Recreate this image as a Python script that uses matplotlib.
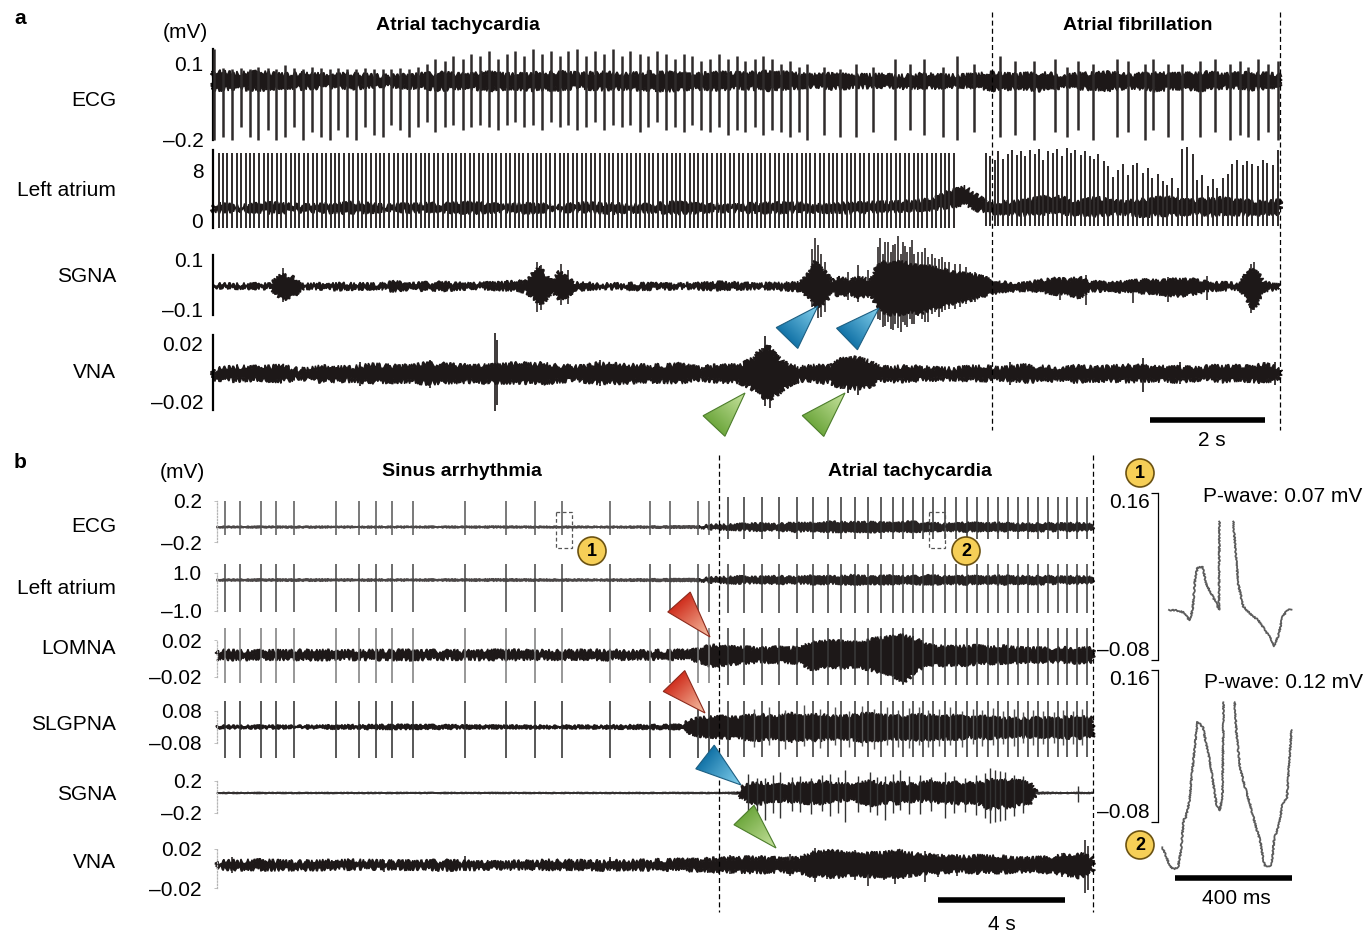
#!/usr/bin/env python3
import numpy as np
import matplotlib
matplotlib.use("Agg")
import matplotlib.pyplot as plt
from matplotlib.patches import Polygon, Circle, Rectangle
from matplotlib.colors import LinearSegmentedColormap
from matplotlib.transforms import blended_transform_factory

W, H = 1364, 935
INK = "#1d1818"
SPIKE = "#2f2b2b"
nan = np.nan

plt.rcParams.update({
    "font.family": ["Liberation Sans", "DejaVu Sans"],
    "font.size": 15,
})

# ---------------- panel a: time in s, amplitude in mV ----------------
a_span = 18.56
a_edges = [13.55, 18.56]          # AT -> AF switch, end of record
a_bar_s = 2.0

ecg_a_t = [0.02, 0.17, 0.33, 0.48, 0.64, 0.79, 0.95, 1.10, 1.26, 1.41,
           1.56, 1.72, 1.87, 2.03, 2.18, 2.33, 2.49, 2.64, 2.80, 2.95,
           3.10, 3.26, 3.41, 3.57, 3.72, 3.87, 4.03, 4.18, 4.34, 4.49,
           4.64, 4.80, 4.95, 5.11, 5.26, 5.41, 5.57, 5.72, 5.88, 6.03,
           6.18, 6.34, 6.49, 6.65, 6.80, 6.95, 7.11, 7.26, 7.42, 7.57,
           7.72, 7.88, 8.03, 8.19, 8.34, 8.49, 8.65, 8.80, 8.96, 9.11,
           9.26, 9.42, 9.57, 9.73, 9.88, 10.03, 10.19, 10.34, 10.62, 10.90,
           11.18, 11.48, 11.86, 12.12, 12.37, 12.70, 12.94, 13.23, 13.69, 13.95,
           14.28, 14.64, 14.85, 15.04, 15.30, 15.72, 15.91, 16.21, 16.35, 16.61,
           16.85, 17.17, 17.43, 17.69, 17.86, 18.00, 18.17, 18.35, 18.52]
ecg_a_top = [0.16, 0.085, 0.08, 0.085, 0.08, 0.09, 0.085, 0.08, 0.095, 0.085,
             0.08, 0.09, 0.085, 0.08, 0.085, 0.08, 0.08, 0.085, 0.08, 0.08,
             0.08, 0.085, 0.08, 0.09, 0.1, 0.12, 0.11, 0.13, 0.12, 0.14,
             0.13, 0.15, 0.12, 0.14, 0.15, 0.13, 0.16, 0.14, 0.15, 0.13,
             0.15, 0.16, 0.13, 0.15, 0.14, 0.16, 0.13, 0.15, 0.14, 0.13,
             0.15, 0.14, 0.12, 0.14, 0.13, 0.11, 0.12, 0.14, 0.12, 0.13,
             0.11, 0.12, 0.13, 0.12, 0.1, 0.11, 0.09, 0.1, 0.09, 0.08,
             0.1, 0.09, 0.12, 0.1, 0.12, 0.09, 0.13, 0.1, 0.13, 0.11,
             0.11, 0.12, 0.09, 0.11, 0.1, 0.12, 0.11, 0.1, 0.12, 0.1,
             0.1, 0.11, 0.12, 0.1, 0.11, 0.09, 0.12, 0.1, 0.11]
ecg_a_bot = [-0.2, -0.19, -0.2, -0.15, -0.19, -0.2, -0.16, -0.2, -0.19, -0.15,
             -0.2, -0.17, -0.19, -0.2, -0.16, -0.19, -0.2, -0.15, -0.18, -0.19,
             -0.14, -0.16, -0.19, -0.15, -0.13, -0.17, -0.15, -0.14, -0.16, -0.15,
             -0.14, -0.15, -0.16, -0.14, -0.13, -0.15, -0.14, -0.16, -0.13, -0.15,
             -0.14, -0.16, -0.15, -0.13, -0.16, -0.14, -0.15, -0.14, -0.17, -0.15,
             -0.13, -0.16, -0.15, -0.17, -0.14, -0.16, -0.17, -0.15, -0.18, -0.16,
             -0.17, -0.15, -0.18, -0.16, -0.17, -0.19, -0.17, -0.2, -0.18, -0.19,
             -0.19, -0.17, -0.2, -0.16, -0.18, -0.19, -0.2, -0.17, -0.19, -0.18,
             -0.2, -0.17, -0.19, -0.16, -0.2, -0.19, -0.17, -0.2, -0.16, -0.19,
             -0.2, -0.19, -0.17, -0.2, -0.18, -0.19, -0.2, -0.17, -0.2]
ecg_a_band_t = [0.0, 0.4, 0.8, 1.2, 1.6, 2.0, 2.4, 2.8, 3.2, 3.6,
                4.0, 4.4, 4.8, 5.2, 5.6, 6.0, 6.4, 6.8, 7.2, 7.6,
                8.0, 8.4, 8.8, 9.2, 9.6, 10.0, 10.4, 10.8, 11.2, 11.6,
                12.0, 12.4, 12.8, 13.2, 13.6, 14.0, 14.4, 14.8, 15.2, 15.6,
                16.0, 16.4, 16.8, 17.2, 17.6, 18.0, 18.56]
ecg_a_band_hi = [0.07, 0.062, 0.066, 0.058, 0.062, 0.055, 0.06, 0.053, 0.052, 0.058,
                 0.062, 0.058, 0.064, 0.056, 0.062, 0.066, 0.06, 0.064, 0.058, 0.065,
                 0.062, 0.057, 0.064, 0.06, 0.066, 0.062, 0.055, 0.058, 0.053, 0.056,
                 0.052, 0.058, 0.053, 0.056, 0.064, 0.058, 0.062, 0.055, 0.06, 0.064,
                 0.056, 0.062, 0.058, 0.064, 0.06, 0.062, 0.056]
ecg_a_band_lo = [-0.002, 0.006, 0.0, 0.01, 0.004, 0.012, 0.006, 0.014, 0.012, 0.006,
                 0.0, 0.008, 0.0, 0.006, -0.002, 0.002, 0.008, 0.0, 0.006, 0.0,
                 -0.002, 0.006, 0.002, 0.008, 0.0, 0.006, 0.012, 0.006, 0.01, 0.012,
                 0.008, 0.006, 0.012, 0.01, 0.0, 0.006, -0.002, 0.01, 0.004, 0.0,
                 0.008, -0.002, 0.006, 0.0, 0.008, 0.002, 0.01]

la_a_at_t = [0.10, 0.18, 0.25, 0.33, 0.41, 0.49, 0.57, 0.64, 0.72, 0.80,
             0.88, 0.96, 1.03, 1.11, 1.19, 1.27, 1.35, 1.42, 1.50, 1.58,
             1.66, 1.74, 1.81, 1.89, 1.97, 2.05, 2.13, 2.20, 2.28, 2.36,
             2.44, 2.52, 2.59, 2.67, 2.75, 2.83, 2.91, 2.98, 3.06, 3.14,
             3.22, 3.30, 3.37, 3.45, 3.53, 3.61, 3.69, 3.76, 3.84, 3.92,
             4.00, 4.08, 4.15, 4.23, 4.31, 4.39, 4.47, 4.54, 4.62, 4.70,
             4.78, 4.86, 4.93, 5.01, 5.09, 5.17, 5.25, 5.32, 5.40, 5.48,
             5.56, 5.64, 5.71, 5.79, 5.87, 5.95, 6.03, 6.10, 6.18, 6.26,
             6.34, 6.42, 6.49, 6.57, 6.65, 6.73, 6.81, 6.88, 6.96, 7.04,
             7.12, 7.20, 7.27, 7.35, 7.43, 7.51, 7.59, 7.66, 7.74, 7.82,
             7.90, 7.98, 8.05, 8.13, 8.21, 8.29, 8.37, 8.44, 8.52, 8.60,
             8.68, 8.76, 8.83, 8.91, 8.99, 9.07, 9.15, 9.22, 9.30, 9.38,
             9.46, 9.54, 9.61, 9.69, 9.77, 9.85, 9.93, 10.00, 10.08, 10.16,
             10.24, 10.32, 10.39, 10.47, 10.55, 10.63, 10.71, 10.78, 10.86, 10.94,
             11.02, 11.10, 11.17, 11.25, 11.33, 11.41, 11.49, 11.56, 11.64, 11.72,
             11.80, 11.88, 11.95, 12.03, 12.11, 12.19, 12.27, 12.34, 12.42, 12.50,
             12.58, 12.66, 12.73, 12.81, 12.89]
la_a_at_top, la_a_at_bot = 10.8, -1.3
la_a_af_t = [13.45, 13.52, 13.60, 13.66, 13.74, 13.83, 13.90, 13.98, 14.05, 14.13,
             14.22, 14.29, 14.37, 14.44, 14.53, 14.61, 14.68, 14.77, 14.85, 14.92,
             15.00, 15.09, 15.16, 15.25, 15.33, 15.40, 15.49, 15.57, 15.66, 15.74,
             15.83, 15.91, 16.00, 16.08, 16.17, 16.26, 16.34, 16.43, 16.52, 16.60,
             16.69, 16.78, 16.86, 16.95, 17.04, 17.12, 17.21, 17.30, 17.39, 17.47,
             17.56, 17.65, 17.73, 17.82, 17.91, 17.99, 18.08, 18.17, 18.26, 18.34,
             18.43, 18.52]
la_a_af_top = [10.7, 10.2, 9.6, 11.0, 9.8, 10.6, 11.2, 10.4, 11.0, 10.2,
               11.2, 10.6, 11.4, 9.6, 11.0, 10.8, 11.4, 10.2, 11.6, 10.8,
               11.2, 10.4, 11.0, 10.2, 9.8, 10.6, 9.4, 8.6, 6.9, 8.0,
               9.0, 7.2, 8.8, 9.2, 7.6, 8.4, 6.8, 7.4, 6.2, 5.6,
               6.8, 5.2, 11.4, 11.7, 10.6, 6.4, 7.2, 5.4, 6.6, 5.2,
               6.8, 7.4, 9.0, 9.6, 8.8, 9.4, 9.0, 8.6, 9.6, 9.2,
               8.8, 11.2]
la_a_af_bot = -0.9
la_a_band_t = [0, 0.5, 1.0, 1.5, 2.0, 2.5, 3.0, 3.5, 4.0, 4.5,
               5.0, 5.5, 6.0, 6.5, 7.0, 7.5, 8.0, 8.5, 9.0, 9.5,
               10.0, 10.5, 11.0, 11.5, 12.0, 12.5, 12.82, 13.08, 13.34, 13.51,
               13.8, 14.2, 14.6, 15.0, 15.4, 15.8, 16.2, 16.6, 17.0, 17.4,
               17.8, 18.2, 18.56]
la_a_band_hi = [2.5, 2.2, 2.6, 2.3, 2.4, 2.7, 2.2, 2.5, 2.4, 2.7,
                2.3, 2.5, 2.2, 2.6, 2.4, 2.3, 2.7, 2.4, 2.2, 2.5,
                2.6, 2.3, 2.5, 2.7, 2.8, 3.2, 4.6, 5.2, 3.6, 2.5,
                2.8, 3.2, 3.8, 3.0, 3.4, 2.8, 3.2, 3.6, 3.0, 3.4,
                3.2, 2.8, 3.0]
la_a_band_lo = [1.4, 1.6, 1.3, 1.5, 1.4, 1.2, 1.6, 1.4, 1.5, 1.2,
                1.5, 1.3, 1.6, 1.4, 1.3, 1.5, 1.2, 1.4, 1.6, 1.3,
                1.4, 1.5, 1.3, 1.4, 1.5, 1.8, 2.1, 2.6, 1.5, 1.2,
                1.1, 0.9, 1.2, 1.0, 0.8, 1.1, 0.7, 0.9, 1.1, 0.8,
                1.0, 0.9, 1.1]

sgna_a_band_t = [0.0, 0.99, 1.10, 1.20, 1.30, 1.41, 1.51, 1.60, 2.21, 2.90,
                 3.17, 3.34, 3.95, 4.47, 4.99, 5.43, 5.58, 5.69, 5.77, 5.90,
                 6.03, 6.14, 6.28, 6.73, 7.43, 8.12, 8.82, 9.51, 10.21, 10.38,
                 10.47, 10.56, 10.66, 10.77, 10.90, 11.08, 11.25, 11.43, 11.53, 11.63,
                 11.77, 11.95, 12.12, 12.30, 12.47, 12.64, 12.82, 12.99, 13.17, 13.34,
                 13.51, 13.69, 14.21, 14.38, 14.64, 14.90, 15.08, 15.25, 15.60, 16.30,
                 16.56, 16.82, 17.08, 17.34, 17.86, 17.97, 18.07, 18.17, 18.28, 18.56]
sgna_a_band_hi = [-0.002, -0.002, 0.02, 0.04, 0.03, 0.026, 0.0, -0.002, 0.0, -0.002,
                  0.008, 0.0, 0.004, 0.0, 0.004, 0.01, 0.045, 0.07, 0.04, 0.01,
                  0.05, 0.03, 0.004, -0.002, 0.0, -0.002, 0.004, -0.002, 0.004, 0.045,
                  0.09, 0.07, 0.045, 0.012, 0.025, 0.012, 0.03, 0.012, 0.06, 0.09,
                  0.08, 0.09, 0.08, 0.07, 0.07, 0.06, 0.05, 0.045, 0.04, 0.03,
                  0.02, 0.004, 0.004, 0.012, 0.02, 0.016, 0.026, 0.008, 0.004, 0.016,
                  0.012, 0.02, 0.016, 0.004, 0.0, 0.045, 0.06, 0.05, 0.004, -0.002]
sgna_a_band_lo = [-0.014, -0.016, -0.04, -0.055, -0.06, -0.048, -0.028, -0.016, -0.02, -0.016,
                  -0.028, -0.02, -0.024, -0.016, -0.02, -0.03, -0.055, -0.085, -0.07, -0.03,
                  -0.06, -0.055, -0.024, -0.016, -0.02, -0.016, -0.02, -0.016, -0.024, -0.055,
                  -0.09, -0.085, -0.07, -0.03, -0.048, -0.038, -0.055, -0.035, -0.08, -0.11,
                  -0.12, -0.12, -0.11, -0.12, -0.1, -0.09, -0.08, -0.07, -0.065, -0.05,
                  -0.042, -0.028, -0.024, -0.03, -0.038, -0.042, -0.055, -0.024, -0.028, -0.035,
                  -0.042, -0.048, -0.038, -0.024, -0.02, -0.055, -0.095, -0.08, -0.028, -0.016]
sgna_a_burst_t = [1.22, 5.63, 5.70, 6.05, 6.17, 10.42, 10.47, 10.52, 10.58, 10.65,
                  11.04, 11.22, 11.39, 11.57, 11.60, 11.66, 11.69, 11.74, 11.80, 11.83,
                  11.87, 11.91, 11.96, 12.00, 12.03, 12.08, 12.12, 12.16, 12.20, 12.26,
                  12.33, 12.38, 12.44, 12.50, 12.56, 12.62, 12.68, 12.73, 12.80, 12.90,
                  13.00, 13.10, 13.25, 14.73, 15.18, 16.00, 16.61, 17.29, 18.05, 18.10]
sgna_a_burst_top = [0.064, 0.088, 0.076, 0.08, 0.056, 0.14, 0.184, 0.156, 0.12, 0.09,
                    0.048, 0.076, 0.056, 0.15, 0.184, 0.12, 0.168, 0.17, 0.13, 0.156,
                    0.16, 0.192, 0.12, 0.17, 0.152, 0.13, 0.15, 0.176, 0.12, 0.128,
                    0.13, 0.144, 0.11, 0.12, 0.104, 0.1, 0.11, 0.088, 0.09, 0.08,
                    0.08, 0.07, 0.05, 0.024, 0.036, 0.016, 0.028, 0.032, 0.08, 0.088]
sgna_a_burst_bot = [-0.072, -0.112, -0.104, -0.084, -0.08, -0.09, -0.104, -0.136, -0.13, -0.11,
                    -0.064, -0.072, -0.056, -0.14, -0.144, -0.17, -0.168, -0.15, -0.18, -0.184,
                    -0.16, -0.176, -0.19, -0.15, -0.164, -0.17, -0.14, -0.16, -0.16, -0.128,
                    -0.14, -0.152, -0.15, -0.12, -0.112, -0.13, -0.11, -0.104, -0.1, -0.1,
                    -0.09, -0.08, -0.07, -0.064, -0.084, -0.076, -0.072, -0.064, -0.116, -0.104]

vna_a_band_t = [0.0, 0.4, 0.82, 1.2, 1.51, 1.9, 2.38, 2.8, 3.25, 3.7,
                4.12, 4.5, 4.82, 5.3, 5.69, 6.0, 6.38, 6.7, 7.08, 7.4,
                7.77, 8.1, 8.47, 8.8, 9.17, 9.37, 9.51, 9.65, 9.77, 9.90,
                10.03, 10.21, 10.5, 10.73, 10.90, 11.16, 11.43, 11.60, 12.0, 12.4,
                12.82, 13.2, 13.69, 14.1, 14.6, 15.0, 15.43, 15.9, 16.3, 16.8,
                17.17, 17.6, 18.0, 18.3, 18.56]
vna_a_band_hi = [0.0014, 0.0034, 0.0028, 0.0041, 0.0014, 0.0034, 0.0028, 0.0048, 0.0034, 0.0055,
                 0.0048, 0.0041, 0.0041, 0.0055, 0.0055, 0.0041, 0.0034, 0.0055, 0.0048, 0.0041,
                 0.0041, 0.0048, 0.0028, 0.0041, 0.0041, 0.0083, 0.0138, 0.0172, 0.0124, 0.0069,
                 0.0041, 0.0028, 0.0041, 0.0034, 0.0083, 0.0097, 0.0069, 0.0028, 0.0034, 0.0028,
                 0.002, 0.0034, 0.0028, 0.0041, 0.0028, 0.0034, 0.0028, 0.0041, 0.0034, 0.0028,
                 0.0028, 0.0041, 0.0034, 0.0048, 0.002]
vna_a_band_lo = [-0.0048, -0.0055, -0.0048, -0.0062, -0.0041, -0.0062, -0.0055, -0.0069, -0.0062, -0.0076,
                 -0.0069, -0.0062, -0.0069, -0.0069, -0.0076, -0.0062, -0.0055, -0.0076, -0.0069, -0.0062,
                 -0.0062, -0.0069, -0.0048, -0.0062, -0.0069, -0.011, -0.0145, -0.0193, -0.0166, -0.0124,
                 -0.0083, -0.0055, -0.0062, -0.0069, -0.0097, -0.011, -0.0097, -0.0055, -0.0062, -0.0048,
                 -0.0048, -0.0055, -0.0048, -0.0062, -0.0055, -0.0062, -0.0055, -0.0062, -0.0055, -0.0062,
                 -0.0048, -0.0062, -0.0055, -0.0069, -0.0041]
vna_a_burst_t = [2.56, 3.77, 4.90, 4.94, 6.73, 9.45, 9.55, 9.60, 9.69, 9.80,
                 10.95, 11.04, 11.10, 11.22, 13.86, 16.17, 16.82, 18.47]
vna_a_burst_top = [0.0069, 0.0083, 0.0269, 0.0221, 0.0083, 0.012, 0.0166, 0.0248, 0.0186, 0.014,
                   0.0083, 0.0083, 0.011, 0.0069, 0.0069, 0.0097, 0.0069, 0.0069]
vna_a_burst_bot = [-0.0097, -0.011, -0.0269, -0.0228, -0.0097, -0.014, -0.018, -0.0235, -0.0249, -0.016,
                   -0.012, -0.0145, -0.011, -0.0159, -0.009, -0.0138, -0.0083, -0.009]

# ---------------- panel b ----------------
b_span = 27.59
b_edges = [15.81, 27.59]          # sinus -> AT switch, end of record
b_bar_s = 4.0

b_beats = [0.25, 0.72, 1.39, 1.86, 2.43, 3.75, 4.47, 5.01, 5.51, 6.17,
           7.81, 9.10, 10.02, 10.87, 12.38, 13.64, 14.27, 15.15, 15.50, 16.09,
           16.60, 17.17, 17.70, 18.27, 18.77, 19.24, 19.65, 20.09, 20.50, 20.91,
           21.29, 21.61, 21.92, 22.24, 22.55, 22.93, 23.28, 23.62, 23.94, 24.28,
           24.60, 24.91, 25.23, 25.54, 25.86, 26.17, 26.49, 26.77, 27.09, 27.40]
# beat spike extent: sinus top, sinus bottom, AT top, AT bottom
ecg_b_amp = [0.2, -0.13, 0.24, -0.17]
la_b_amp = [1.45, -1.05, 1.45, -1.1]
lomna_b_amp = [0.033, -0.026, 0.033, -0.029]
slgp_b_amp = [0.13, -0.155, 0.13, -0.15]

b_band_t = [0, 3, 6, 9, 12, 15.2, 15.8, 16.4, 17.0, 17.6,
            18.2, 18.8, 19.4, 20.0, 20.6, 21.2, 21.8, 22.4, 23.0, 23.6,
            24.2, 24.8, 25.4, 26.0, 26.6, 27.2, 27.59]
ecg_b_hi = [-0.048, -0.047, -0.048, -0.047, -0.048, -0.044, -0.035, -0.03, -0.022, -0.028,
            -0.015, -0.02, -0.005, -0.012, -0.008, -0.018, -0.005, -0.02, -0.025, -0.015,
            -0.022, -0.018, -0.026, -0.02, -0.024, -0.018, -0.03]
ecg_b_lo = [-0.06, -0.061, -0.06, -0.061, -0.06, -0.064, -0.075, -0.08, -0.088, -0.082,
            -0.095, -0.09, -0.1, -0.096, -0.1, -0.092, -0.098, -0.09, -0.085, -0.092,
            -0.088, -0.09, -0.084, -0.09, -0.086, -0.09, -0.08]
la_b_hi = [0.67, 0.68, 0.67, 0.68, 0.67, 0.70, 0.76, 0.8, 0.77, 0.82,
           0.78, 0.84, 0.8, 0.86, 0.8, 0.84, 0.79, 0.85, 0.8, 0.83,
           0.79, 0.84, 0.8, 0.83, 0.78, 0.81, 0.77]
la_b_lo = [0.59, 0.58, 0.59, 0.58, 0.59, 0.56, 0.5, 0.46, 0.49, 0.44,
           0.48, 0.42, 0.46, 0.4, 0.45, 0.42, 0.47, 0.41, 0.46, 0.43,
           0.47, 0.42, 0.46, 0.43, 0.48, 0.45, 0.49]

lomna_b_t = [0, 1.3, 2.61, 4.2, 5.76, 7.3, 8.91, 10.5, 12.06, 13.5,
             14.90, 15.21, 15.53, 15.84, 16.5, 17.10, 17.7, 18.36, 18.68, 19.31,
             19.8, 20.25, 20.72, 21.20, 21.67, 21.98, 22.46, 22.9, 23.40, 23.9,
             24.35, 24.8, 25.29, 25.9, 26.55, 27.1, 27.59]
lomna_b_hi = [0.0081, 0.0075, 0.0081, 0.0078, 0.0081, 0.0075, 0.0081, 0.0078, 0.0081, 0.0075,
              0.0081, 0.0105, 0.0135, 0.0125, 0.0115, 0.0105, 0.0115, 0.0105, 0.0165, 0.0185,
              0.0175, 0.0165, 0.021, 0.023, 0.025, 0.021, 0.0135, 0.0125, 0.0125, 0.0135,
              0.0115, 0.0125, 0.0115, 0.0105, 0.0105, 0.0115, 0.0105]
lomna_b_lo = [-0.0005, 0.0002, -0.0005, 0.0, -0.0005, 0.0002, -0.0005, 0.0, -0.0005, 0.0002,
              -0.0005, -0.003, -0.008, -0.007, -0.005, -0.003, -0.004, -0.004, -0.011, -0.009,
              -0.01, -0.009, -0.013, -0.0175, -0.026, -0.013, -0.006, -0.007, -0.007, -0.005,
              -0.005, -0.004, -0.004, -0.003, -0.003, -0.004, -0.003]

slgp_b_t = [0, 2.61, 5.76, 8.91, 12.06, 14.58, 14.90, 15.21, 15.84, 16.47,
            16.63, 17.10, 17.6, 18.05, 18.5, 19.00, 19.5, 19.94, 20.4, 20.88,
            21.3, 21.83, 22.3, 22.77, 23.2, 23.72, 24.2, 24.66, 25.3, 25.92,
            26.4, 26.87, 27.59]
slgp_b_hi = [0.006, 0.006, 0.01, 0.006, 0.006, 0.01, 0.03, 0.045, 0.05, 0.045,
             0.055, 0.06, 0.05, 0.065, 0.055, 0.06, 0.05, 0.055, 0.065, 0.06,
             0.05, 0.055, 0.06, 0.05, 0.055, 0.045, 0.05, 0.045, 0.04, 0.045,
             0.04, 0.05, 0.045]
slgp_b_lo = [-0.006, -0.006, -0.01, -0.006, -0.006, -0.01, -0.03, -0.045, -0.055, -0.05,
             -0.06, -0.065, -0.055, -0.07, -0.06, -0.065, -0.055, -0.06, -0.07, -0.065,
             -0.055, -0.06, -0.065, -0.055, -0.06, -0.05, -0.055, -0.05, -0.045, -0.05,
             -0.045, -0.055, -0.05]
slgp_b_burst_t = [16.9, 17.4, 17.9, 18.5, 19.0, 19.45, 19.9, 20.3, 20.7, 21.1,
                  21.45, 21.8, 22.1, 22.4, 22.75, 23.1, 23.45, 23.8, 24.1, 24.45,
                  24.75, 25.1, 25.4, 25.7, 26.0, 26.35, 26.65, 26.95, 27.25]
slgp_b_burst_top = [0.09, 0.1, 0.085, 0.11, 0.09, 0.1, 0.08, 0.105, 0.09, 0.1,
                    0.085, 0.095, 0.1, 0.085, 0.09, 0.1, 0.08, 0.09, 0.085, 0.095,
                    0.08, 0.09, 0.075, 0.085, 0.08, 0.075, 0.085, 0.08, 0.09]
slgp_b_burst_bot = [-0.1, -0.09, -0.11, -0.095, -0.105, -0.09, -0.1, -0.095, -0.11, -0.09,
                    -0.1, -0.105, -0.09, -0.1, -0.095, -0.09, -0.1, -0.085, -0.095, -0.09,
                    -0.085, -0.095, -0.08, -0.09, -0.085, -0.08, -0.09, -0.085, -0.09]

sgna_b_t = [0, 8, 16.0, 16.40, 16.54, 16.8, 17.10, 17.6, 18.05, 18.5,
            19.00, 19.5, 19.94, 20.3, 20.57, 21.0, 21.51, 22.0, 22.46, 22.9,
            23.40, 23.9, 24.35, 24.7, 24.98, 25.3, 25.61, 25.80, 26.5, 27.59]
sgna_b_hi = [0.055, 0.055, 0.055, 0.06, 0.12, 0.16, 0.175, 0.14, 0.155, 0.165,
             0.19, 0.16, 0.15, 0.175, 0.19, 0.16, 0.175, 0.15, 0.19, 0.16,
             0.175, 0.16, 0.21, 0.2, 0.21, 0.19, 0.17, 0.06, 0.055, 0.055]
sgna_b_lo = [0.045, 0.045, 0.045, 0.04, -0.02, -0.065, -0.075, -0.04, -0.05, -0.065,
             -0.075, -0.04, -0.03, -0.065, -0.1, -0.065, -0.075, -0.04, -0.05, -0.065,
             -0.075, -0.065, -0.15, -0.12, -0.13, -0.09, -0.075, 0.04, 0.045, 0.045]
sgna_b_burst_t = [16.72, 17.0, 17.26, 17.5, 17.73, 18.1, 18.36, 18.7, 19.05, 19.31,
                  19.55, 19.78, 20.2, 20.57, 20.8, 21.04, 21.3, 21.51, 21.8, 22.14,
                  22.5, 22.93, 23.2, 23.56, 23.9, 24.2, 24.35, 24.50, 24.65, 24.82,
                  25.1, 25.4, 27.12]
sgna_b_burst_top = [0.2875, 0.24, 0.2375, 0.27, 0.3125, 0.25, 0.2625, 0.24, 0.28, 0.2875,
                    0.25, 0.3375, 0.26, 0.3125, 0.25, 0.2625, 0.29, 0.3375, 0.26, 0.275,
                    0.25, 0.3125, 0.26, 0.2375, 0.27, 0.3, 0.3625, 0.3375, 0.32, 0.3125,
                    0.28, 0.26, 0.1375]
sgna_b_burst_bot = [-0.225, -0.18, -0.2875, -0.2, -0.2625, -0.17, -0.1875, -0.21, -0.18, -0.2375,
                    -0.2, -0.3125, -0.19, -0.1875, -0.22, -0.2875, -0.2, -0.1625, -0.21, -0.2125,
                    -0.18, -0.2625, -0.2, -0.1875, -0.22, -0.26, -0.325, -0.3125, -0.3, -0.2875,
                    -0.24, -0.2, -0.0625]

vna_b_t = [0, 1.3, 2.61, 4.2, 5.76, 7.3, 8.91, 10.5, 12.06, 13.6,
           15.21, 15.84, 16.5, 17.10, 17.7, 18.36, 18.68, 19.31, 19.8, 20.25,
           20.88, 21.51, 22.14, 22.8, 23.40, 24.0, 24.66, 25.3, 25.92, 26.55,
           27.18, 27.59]
vna_b_hi = [0.0067, 0.0077, 0.0067, 0.0077, 0.0067, 0.0072, 0.0057, 0.0077, 0.0067, 0.0077,
            0.0087, 0.0098, 0.0103, 0.0108, 0.0098, 0.0098, 0.0155, 0.0175, 0.0155, 0.0145,
            0.0155, 0.0175, 0.0135, 0.0125, 0.0115, 0.0125, 0.0115, 0.0105, 0.0105, 0.0125,
            0.0155, 0.0098]
vna_b_lo = [0.0005, -0.0005, -0.0005, 0.0005, 0.0005, -0.0005, 0.0005, 0.0, -0.0005, -0.0005,
            -0.0016, -0.0026, -0.0031, -0.0036, -0.0026, -0.0036, -0.0065, -0.0085, -0.0075, -0.0065,
            -0.0085, -0.0085, -0.0046, -0.0036, -0.0026, -0.0036, -0.0036, -0.0026, -0.0026, -0.0046,
            -0.0085, -0.0016]
vna_b_burst_t = [0.47, 5.26, 7.81, 12.38, 16.16, 18.05, 18.83, 19.2, 19.6, 20.09,
                 20.50, 21.0, 21.35, 21.8, 22.3, 22.7, 23.3, 26.6, 27.34, 27.43]
vna_b_burst_top = [0.0118, 0.0087, 0.0128, 0.0118, 0.0138, 0.0149, 0.021, 0.018, 0.0165, 0.019,
                   0.0169, 0.018, 0.0169, 0.016, 0.0175, 0.015, 0.0145, 0.016, 0.0292, 0.0231]
vna_b_burst_bot = [-0.0046, -0.0036, -0.0015, -0.0026, -0.0056, -0.0077, -0.0139, -0.011, -0.009, -0.0118,
                   -0.018, -0.012, -0.0159, -0.01, -0.0135, -0.009, -0.008, -0.009, -0.0251, -0.0221]

# averaged beats (ms, mV); the R wave runs off the top of the window
p1_t = [0, 29, 52, 70, 81, 90, 98, 116, 127, 142, 159, 171, 173, nan,
        220, 228, 237, 254, 277, 306, 329, 352, 361, 375, 389, 404, 419]
p1_v = [-0.008, -0.009, -0.012, -0.023, -0.008, 0.039, 0.053, 0.053, 0.030, 0.017, 0.004, -0.008, 0.119, nan,
        0.119, 0.078, 0.030, -0.003, -0.013, -0.023, -0.037, -0.052, -0.060, -0.044, -0.018, -0.009, -0.007]
p2_t = [-23, -11, 4, 20, 31, 41, 50, 58, 70, 81, 93, 98, 116, 127, 139, 150, 162, 173, 183, 187, nan,
        225, 231, 243, 260, 277, 295, 312, 327, 341, 352, 361, 375, 389, 404, 419]
p2_v = [-0.120, -0.133, -0.151, -0.154, -0.151, -0.125, -0.077, -0.072, -0.046, 0.007,
        0.060, 0.078, 0.070, 0.044, 0.018, -0.014, -0.051, -0.062, -0.041, 0.109, nan,
        0.109, 0.060, 0.007, -0.025, -0.051, -0.083, -0.109, -0.149, -0.151, -0.146,
        -0.104, -0.088, -0.051, -0.041, 0.065]
p_wave_mv = [0.07, 0.12]
inset_bar_ms = 400


fig = plt.figure(figsize=(W / 100, H / 100), dpi=100)


def px_axes(x0, x1, y_top, y_bot):
    return fig.add_axes([x0 / W, 1 - y_bot / H, (x1 - x0) / W, (y_bot - y_top) / H])


def trace_axes(x0, x1, y_top, y_bot, span, ylim, labels, panel):
    ax = px_axes(x0, x1, y_top, y_bot)
    ax.set_xlim(0, span)
    ax.set_ylim(*ylim)
    ax.patch.set_alpha(0)
    for s in ("top", "right", "bottom"):
        ax.spines[s].set_visible(False)
    ax.set_xticks([])
    ax.set_yticks(list(ylim))
    ax.set_yticklabels(labels)
    if panel == "a":
        ax.spines["left"].set(color="black", linewidth=1.6)
        ax.tick_params(axis="y", length=0, pad=7, labelsize=15)
    else:
        ax.spines["left"].set(color="#b5b5b5", linewidth=0.9, linestyle=(0, (1, 1.5)))
        ax.tick_params(axis="y", length=2, width=0.6, color="#b5b5b5", pad=9, labelsize=15)
    return ax


def band(ax, t, hi, lo, rough=2.2, color=INK, seg=slice(None)):
    # envelope of the recorded noise; the sketch stroke gives it a ragged edge
    t = np.asarray(t, float)[seg]
    hi = np.asarray(hi, float)[seg]
    lo = np.asarray(lo, float)[seg]
    xs = np.concatenate([t, t[::-1]])
    ys = np.concatenate([hi, lo[::-1]])
    patch = ax.fill(xs, ys, fc=color, ec=color, lw=1.0, clip_on=False, zorder=2)[0]
    if rough:
        patch.set_sketch_params(scale=rough, length=1.6, randomness=6)


def spikes(ax, t, top, bot, color=SPIKE, lw=1.2):
    ax.vlines(t, bot, top, colors=color, lw=lw, clip_on=False, zorder=3)


def beat_spikes(ax, amp, c_sinus, c_at, lw=1.2):
    t = np.asarray(b_beats)
    s = t < b_edges[0]
    spikes(ax, t[s], amp[0], amp[1], c_sinus, lw)
    spikes(ax, t[~s], amp[2], amp[3], c_at, lw)


# ---- panel a traces ----
ecg_a = trace_axes(213, 1280, 64, 140, a_span, (-0.2, 0.1), ["–0.2", "0.1"], "a")
ecg_a.spines["left"].set_bounds(-0.2, 0.16)
band(ecg_a, ecg_a_band_t, ecg_a_band_hi, ecg_a_band_lo, rough=2.5)
spikes(ecg_a, ecg_a_t, ecg_a_top, ecg_a_bot, lw=1.8)

la_a = trace_axes(213, 1280, 170, 220, a_span, (0, 8), ["0", "8"], "a")
la_a.spines["left"].set_bounds(-1.3, 11.2)
band(la_a, la_a_band_t, la_a_band_hi, la_a_band_lo, rough=2.5)
spikes(la_a, la_a_at_t, la_a_at_top, la_a_at_bot, lw=1.4)
spikes(la_a, la_a_af_t, la_a_af_top, la_a_af_bot, lw=1.4)

sg_a = trace_axes(213, 1280, 259, 309, a_span, (-0.1, 0.1), ["–0.1", "0.1"], "a")
sg_a.spines["left"].set_bounds(-0.124, 0.116)
band(sg_a, sgna_a_band_t, sgna_a_band_hi, sgna_a_band_lo, rough=2.0)
spikes(sg_a, sgna_a_burst_t, sgna_a_burst_top, sgna_a_burst_bot, color=INK, lw=1.1)

vn_a = trace_axes(213, 1280, 343, 401, a_span, (-0.02, 0.02), ["–0.02", "0.02"], "a")
vn_a.spines["left"].set_bounds(-0.026, 0.0255)
band(vn_a, vna_a_band_t, vna_a_band_hi, vna_a_band_lo, rough=2.6)
spikes(vn_a, vna_a_burst_t, vna_a_burst_top, vna_a_burst_bot, color=INK, lw=1.2)

# ---- panel b traces (quiet sinus stretch drawn smoother than the AT stretch) ----
ecg_b = trace_axes(217, 1093, 501, 542, b_span, (-0.2, 0.2), ["–0.2", "0.2"], "b")
band(ecg_b, b_band_t, ecg_b_hi, ecg_b_lo, rough=0.4, color="#4a4646", seg=slice(0, 6))
band(ecg_b, b_band_t, ecg_b_hi, ecg_b_lo, rough=1.3, color="#262222", seg=slice(5, None))
beat_spikes(ecg_b, ecg_b_amp, "#555555", "#333333", lw=1.1)

la_b = trace_axes(217, 1093, 573, 611, b_span, (-1.0, 1.0), ["–1.0", "1.0"], "b")
band(la_b, b_band_t, la_b_hi, la_b_lo, rough=0.4, color="#4a4646", seg=slice(0, 6))
band(la_b, b_band_t, la_b_hi, la_b_lo, rough=1.3, color="#262222", seg=slice(5, None))
beat_spikes(la_b, la_b_amp, "#444444", "#3a3a3a", lw=1.1)

lo_b = trace_axes(217, 1093, 640, 677, b_span, (-0.02, 0.02), ["–0.02", "0.02"], "b")
band(lo_b, lomna_b_t, lomna_b_hi, lomna_b_lo, rough=2.2)
beat_spikes(lo_b, lomna_b_amp, "#7a7a7a", "#3a3a3a", lw=1.1)

sl_b = trace_axes(217, 1093, 711, 743, b_span, (-0.08, 0.08), ["–0.08", "0.08"], "b")
band(sl_b, slgp_b_t, slgp_b_hi, slgp_b_lo, rough=1.0, seg=slice(0, 6))
band(sl_b, slgp_b_t, slgp_b_hi, slgp_b_lo, rough=2.0, seg=slice(5, None))
beat_spikes(sl_b, slgp_b_amp, "#2a2a2a", "#333333", lw=1.1)
spikes(sl_b, slgp_b_burst_t, slgp_b_burst_top, slgp_b_burst_bot, color="#555555", lw=1.0)

sg_b = trace_axes(217, 1093, 781, 813, b_span, (-0.2, 0.2), ["–0.2", "0.2"], "b")
band(sg_b, sgna_b_t, sgna_b_hi, sgna_b_lo, rough=0.3, color="#333030", seg=slice(0, 4))
band(sg_b, sgna_b_t, sgna_b_hi, sgna_b_lo, rough=2.2, seg=slice(3, 28))
band(sg_b, sgna_b_t, sgna_b_hi, sgna_b_lo, rough=0.3, color="#333030", seg=slice(27, None))
spikes(sg_b, sgna_b_burst_t, sgna_b_burst_top, sgna_b_burst_bot, color="#333333", lw=1.0)

vn_b = trace_axes(217, 1093, 849, 888, b_span, (-0.02, 0.02), ["–0.02", "0.02"], "b")
band(vn_b, vna_b_t, vna_b_hi, vna_b_lo, rough=2.4)
spikes(vn_b, vna_b_burst_t, vna_b_burst_top, vna_b_burst_bot, color=INK, lw=1.1)

# ---- averaged P/QRS insets ----
insets = []
for (y_top, y_bot), t, v in [((493, 660), p1_t, p1_v), ((670, 822), p2_t, p2_v)]:
    ax = px_axes(1158, 1295, y_top, y_bot)
    ax.set_xlim(-37.7, 431.5)
    ax.set_ylim(-0.08, 0.16)
    ax.patch.set_alpha(0)
    for s in ("top", "right", "bottom"):
        ax.spines[s].set_visible(False)
    ax.spines["left"].set_linewidth(0.9)
    ax.set_xticks([])
    ax.set_yticks([-0.08, 0.16])
    ax.set_yticklabels(["–0.08", "0.16"])
    ax.tick_params(axis="y", length=5, width=0.9, pad=1, labelsize=15)
    lab = ax.get_yticklabels()
    lab[0].set_va("bottom")
    lab[1].set_va("top")
    ln = ax.plot(t, v, color="#5c5c5c", lw=1.3, clip_on=False)[0]
    ln.set_sketch_params(scale=0.7, length=2, randomness=4)
    insets.append(ax)

# ---- overlay in pixel coordinates for labels and markers ----
ov = fig.add_axes([0, 0, 1, 1])
ov.set_xlim(0, W)
ov.set_ylim(H, 0)
ov.axis("off")
ov.set_autoscale_on(False)

tr_a = blended_transform_factory(ecg_a.transData, ov.transData)
tr_b = blended_transform_factory(ecg_b.transData, ov.transData)
tr_i = blended_transform_factory(insets[1].transData, ov.transData)
for e in a_edges:
    ov.plot([e, e], [12, 430], transform=tr_a, color="k", lw=0.9, ls=(0, (4, 2.5)))
for e in b_edges:
    ov.plot([e, e], [455, 912], transform=tr_b, color="k", lw=0.9, ls=(0, (4, 2.5)))

ov.plot([16.30, 16.30 + a_bar_s], [420, 420], transform=tr_a, color="k", lw=4, solid_capstyle="butt")
ov.plot([22.71, 22.71 + b_bar_s], [900, 900], transform=tr_b, color="k", lw=4, solid_capstyle="butt")
ov.plot([20, 20 + inset_bar_ms], [878, 878], transform=tr_i, color="k", lw=4, solid_capstyle="butt")

ov.text(1212, 440, f"{a_bar_s:g} s", ha="center", va="center", fontsize=15)
ov.text(1002, 925, f"{b_bar_s:g} s", ha="center", va="center", fontsize=15)
ov.text(1236, 898, f"{inset_bar_ms} ms", ha="center", va="center", fontsize=15)

ov.text(14, 18, "a", fontsize=15, fontweight="bold", va="center")
ov.text(14, 462, "b", fontsize=15, fontweight="bold", va="center")
ov.text(185, 33, "(mV)", ha="center", va="center", fontsize=15)
ov.text(182, 472, "(mV)", ha="center", va="center", fontsize=15)
ov.text(458, 25, "Atrial tachycardia", ha="center", va="center", fontsize=14, fontweight="bold")
ov.text(1138, 25, "Atrial fibrillation", ha="center", va="center", fontsize=14, fontweight="bold")
ov.text(462, 471, "Sinus arrhythmia", ha="center", va="center", fontsize=14, fontweight="bold")
ov.text(910, 471, "Atrial tachycardia", ha="center", va="center", fontsize=14, fontweight="bold")

for name, y in [("ECG", 100), ("Left atrium", 191), ("SGNA", 277), ("VNA", 373),
                ("ECG", 527), ("Left atrium", 588), ("LOMNA", 648), ("SLGPNA", 724),
                ("SGNA", 795), ("VNA", 862)]:
    ov.text(116, y, name, ha="right", va="center", fontsize=15)

for y, mv in zip([497, 683], p_wave_mv):
    ov.text(1283, y, f"P-wave: {mv:.2f} mV", ha="center", va="center", fontsize=15)

# dashed boxes around the beats shown enlarged
for x in (556, 929):
    ov.add_patch(Rectangle((x, 512), 16, 36, fill=False, ec="#555555", lw=0.9, ls=(0, (3, 2))))

for (x, y), n in [((592, 551), "1"), ((966, 551), "2"), ((1140, 473), "1"), ((1140, 845), "2")]:
    ov.add_patch(Circle((x, y), 14, fc="#f6cf57", ec="#6b5212", lw=1.2, zorder=6))
    ov.text(x, y + 1, n, ha="center", va="center", fontsize=13, fontweight="bold", zorder=7)


def arrowhead(tip, base, hw, c_base, c_tip, ec):
    # shaded arrowhead: colour runs from the base to the tip
    tip = np.asarray(tip, float)
    base = np.asarray(base, float)
    d = tip - base
    n = np.array([-d[1], d[0]]) / np.hypot(*d)
    pts = np.array([tip, base + n * hw, base - n * hw])
    poly = Polygon(pts, closed=True, fc="none", ec=ec, lw=0.8, zorder=6)
    ov.add_patch(poly)
    x0, y0 = pts.min(axis=0) - 1
    x1, y1 = pts.max(axis=0) + 1
    gx, gy = np.meshgrid(np.linspace(x0, x1, 60), np.linspace(y0, y1, 60))
    u = ((gx - base[0]) * d[0] + (gy - base[1]) * d[1]) / (d @ d)
    cmap = LinearSegmentedColormap.from_list("shade", [c_base, c_tip])
    img = ov.imshow(np.clip(u, 0, 1), extent=[x0, x1, y1, y0], origin="upper",
                    cmap=cmap, vmin=0, vmax=1, aspect="auto", zorder=5,
                    interpolation="bilinear")
    img.set_clip_path(poly)


arrowhead((818, 306), (787, 338), 15, "#1474a8", "#86d3ef", "#1d5f82")
arrowhead((879, 308), (847, 339), 15, "#1474a8", "#86d3ef", "#1d5f82")
arrowhead((745, 393), (714, 426), 15, "#6fa83f", "#c9e4a0", "#4c7d2b")
arrowhead((845, 393), (813, 426), 15, "#6fa83f", "#c9e4a0", "#4c7d2b")
arrowhead((710, 637), (679, 602), 15, "#d0301f", "#f7c3a6", "#8c2a1c")
arrowhead((705, 713), (674, 681), 15, "#d0301f", "#f7c3a6", "#8c2a1c")
arrowhead((741, 785), (705, 757), 15, "#1474a8", "#86d3ef", "#1d5f82")
arrowhead((776, 848), (744, 815), 14, "#6fa83f", "#c9e4a0", "#4c7d2b")
ov.set_xlim(0, W)
ov.set_ylim(H, 0)

fig.savefig("out.png", dpi=100, facecolor="white")
